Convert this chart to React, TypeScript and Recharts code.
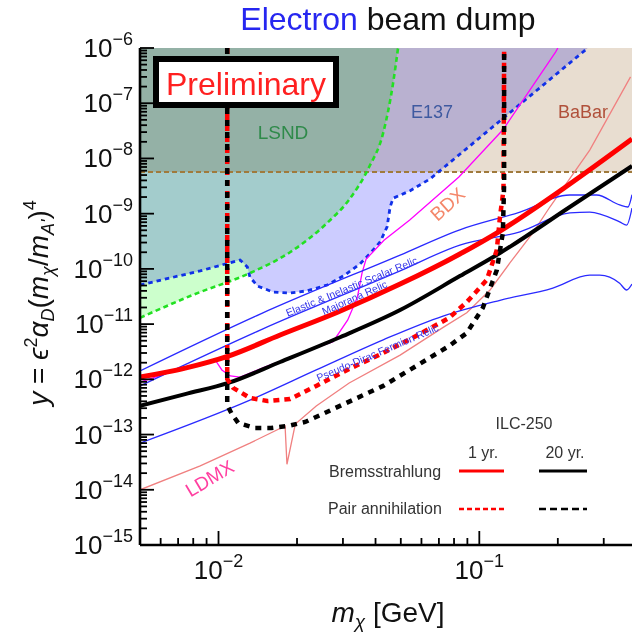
import React from 'react';
import { ComposedChart, Line, Area, XAxis, YAxis } from 'recharts';

const FONT = '"Liberation Sans", Arial, Helvetica, sans-serif';
const Y_TOP = 1e-6;

const X_TICKS = [0.005, 0.006, 0.007, 0.008, 0.009, 0.01, 0.02, 0.03, 0.04, 0.05, 0.06, 0.07, 0.08, 0.09, 0.1, 0.2, 0.3];
const Y_DECADES = [1e-15, 1e-14, 1e-13, 1e-12, 1e-11, 1e-10, 1e-9, 1e-8, 1e-7, 1e-6];
const Y_MINOR = [2, 3, 4, 5, 6, 7, 8, 9];
const Y_TICKS = Y_DECADES.flatMap((d) => (d === Y_TOP ? [d] : [d, ...Y_MINOR.map((m) => m * d)]));

// excluded regions: lower edge, filled up to the top of the frame  [mχ (GeV), y]
const LSND_EDGE = [[0.005, 1.3e-11], [0.008, 3.4e-11], [0.0132, 8.4e-11], [0.0188, 2.0e-10], [0.0261, 6.8e-10], [0.0317, 1.8e-9], [0.0378, 7e-9], [0.0428, 2.9e-8], [0.0467, 2.3e-7], [0.0488, 1e-6]];
const E137_EDGE = [[0.005, 5.1e-11], [0.0085, 9.2e-11], [0.0121, 1.45e-10], [0.0129, 1.08e-10], [0.0132, 7.1e-11], [0.0141, 4.9e-11], [0.0162, 3.8e-11], [0.0188, 3.65e-11], [0.0218, 4.0e-11], [0.0261, 5.1e-11], [0.0306, 7.8e-11], [0.0349, 1.23e-10], [0.0383, 1.95e-10], [0.0417, 3.1e-10], [0.0443, 5.8e-10], [0.0455, 1.32e-9], [0.0467, 1.9e-9], [0.0543, 2.6e-9], [0.0649, 4.3e-9], [0.2606, 1e-6]];
const BABAR_EDGE = [[0.005, 5.7e-9], [0.385, 5.7e-9]];

// projections
const BDX = [[0.005, 8.9e-13], [0.00714, 1.55e-12], [0.00971, 2.24e-12], [0.0103, 1.48e-12], [0.0111, 1.15e-12], [0.0121, 1.1e-12], [0.0158, 1.82e-12], [0.0197, 2.6e-12], [0.0224, 3.4e-12], [0.0275, 4.8e-12], [0.0313, 1.19e-11], [0.0341, 3.1e-11], [0.0355, 8.4e-11], [0.0368, 1.5e-10], [0.0431, 3.3e-10], [0.0541, 7.7e-10], [0.0835, 4.6e-9], [0.1232, 3.3e-8], [0.1963, 8.5e-7], [0.2, 1e-6]];
const LDMX = [[0.005, 1.0e-14], [0.00851, 2.7e-14], [0.0132, 7.0e-14], [0.018, 1.43e-13], [0.0183, 2.9e-14], [0.0197, 1.55e-13], [0.0237, 3.3e-13], [0.0317, 8.6e-13], [0.0497, 2.75e-12], [0.0732, 8.9e-12], [0.0895, 1.6e-11], [0.1097, 4.1e-11], [0.131, 1.28e-10], [0.1604, 4.5e-10], [0.1864, 1.32e-9], [0.2651, 1.42e-8], [0.38, 3.0e-7]];

// relic targets
const SCALAR_RELIC = [[0.005, 1.42e-12], [0.01445, 1.52e-11], [0.0497, 1.78e-10], [0.0842, 5.1e-10], [0.1432, 1.07e-9], [0.2223, 2.18e-9], [0.2818, 2.18e-9], [0.3452, 1.44e-9], [0.3713, 1.32e-9], [0.385, 2.2e-9]];
const MAJORANA_RELIC = [[0.005, 7.6e-13], [0.01445, 7.8e-12], [0.0497, 9.2e-11], [0.0842, 2.7e-10], [0.1432, 4.7e-10], [0.2223, 1.03e-9], [0.2651, 1.07e-9], [0.3452, 7.1e-10], [0.3672, 6.2e-10], [0.385, 1.26e-9]];
const PSEUDO_DIRAC_RELIC = [[0.005, 7.0e-14], [0.0132, 4.2e-13], [0.0237, 1.48e-12], [0.0428, 5.2e-12], [0.0726, 1.4e-11], [0.12, 2.7e-11], [0.1914, 4.5e-11], [0.2651, 7.7e-11], [0.2895, 7.7e-11], [0.3452, 5.5e-11], [0.3672, 4.15e-11], [0.385, 5.3e-11]];

// ILC-250
const BREMS_1YR = [[0.005, 1.1e-12], [0.00745, 1.6e-12], [0.0109, 2.64e-12], [0.01723, 6.35e-12], [0.02875, 1.66e-11], [0.0497, 5.3e-11], [0.0842, 1.86e-10], [0.12, 4.85e-10], [0.2223, 3.44e-9], [0.385, 2.25e-8]];
const BREMS_20YR = [[0.005, 3.3e-13], [0.00745, 5.4e-13], [0.0109, 8.6e-13], [0.01723, 2.06e-12], [0.02875, 5.6e-12], [0.0497, 1.8e-11], [0.0842, 7.4e-11], [0.12, 1.94e-10], [0.2223, 1.32e-9], [0.385, 7.3e-9]];
const PAIR_1YR = [[0.0108, 1e-6], [0.0108, 1.01e-12], [0.01138, 7.0e-13], [0.0132, 4.6e-13], [0.0154, 4.05e-13], [0.0188, 4.4e-13], [0.0237, 7.6e-13], [0.0317, 1.54e-12], [0.0428, 3.0e-12], [0.0572, 6.1e-12], [0.0765, 1.29e-11], [0.0895, 2.5e-11], [0.1068, 6.3e-11], [0.1167, 2.2e-10], [0.12, 8.7e-10], [0.1238, 2.7e-9], [0.1245, 1e-6]];
const PAIR_20YR = [[0.0108, 1e-6], [0.0108, 3.4e-13], [0.0112, 2.45e-13], [0.0119, 1.62e-13], [0.0138, 1.31e-13], [0.0159, 1.31e-13], [0.0185, 1.43e-13], [0.0215, 1.69e-13], [0.0288, 3.2e-13], [0.0428, 7.6e-13], [0.0572, 1.74e-12], [0.0765, 4.0e-12], [0.0895, 6.9e-12], [0.1031, 1.96e-11], [0.1167, 9.5e-11], [0.1231, 4.5e-10], [0.1245, 3.6e-9], [0.1245, 1e-6]];

const toPts = (a: number[][]) => a.map(([x, y]) => ({ x, y }));
const isMajor = (v: number) => Math.abs(Math.log10(v) - Math.round(Math.log10(v))) < 1e-6;
const expLabel = (v: number) => '\u2212' + Math.abs(Math.round(Math.log10(v)));

const TICK = { stroke: '#000', strokeWidth: 1.8 };

function BottomTick({ x, y, payload }: any) {
  const major = isMajor(payload.value);
  return (
    <g>
      <line x1={x} x2={x} y1={y} y2={y - (major ? 14 : 7)} {...TICK} />
      {major && (
        <text x={x} y={y + 34} textAnchor="middle" fontFamily={FONT} fontSize={26} fill="#111">
          10<tspan dy={-12} fontSize={18}>{expLabel(payload.value)}</tspan>
        </text>
      )}
    </g>
  );
}

function TopTick({ x, y, payload }: any) {
  const major = isMajor(payload.value);
  return <line x1={x} x2={x} y1={y} y2={y + (major ? 14 : 7)} {...TICK} />;
}

function LeftTick({ x, y, payload }: any) {
  const major = isMajor(payload.value);
  return (
    <g>
      <line x1={x} x2={x + (major ? 14 : 7)} y1={y} y2={y} {...TICK} />
      {major && (
        <text x={x - 7} y={y + 9} textAnchor="end" fontFamily={FONT} fontSize={26} fill="#111">
          10<tspan dy={-12} fontSize={18}>{expLabel(payload.value)}</tspan>
        </text>
      )}
    </g>
  );
}

function RightTick({ x, y, payload }: any) {
  const major = isMajor(payload.value);
  return <line x1={x} x2={x - (major ? 14 : 7)} y1={y} y2={y} {...TICK} />;
}

const line = (data: number[][], stroke: string, width: number, dash?: string, type: any = 'linear') => (
  <Line
    data={toPts(data)}
    dataKey="y"
    xAxisId="b"
    yAxisId="l"
    type={type}
    stroke={stroke}
    strokeWidth={width}
    strokeDasharray={dash}
    dot={false}
    activeDot={false}
    isAnimationActive={false}
  />
);

const region = (data: number[][], fill: string, type: any = 'linear') => (
  <Area
    className="mul"
    data={toPts(data)}
    dataKey={(d: any) => [d.y, Y_TOP]}
    xAxisId="b"
    yAxisId="l"
    type={type}
    fill={fill}
    fillOpacity={1}
    stroke="none"
    dot={false}
    activeDot={false}
    isAnimationActive={false}
  />
);

const relicLabel = { fontSize: 10.5, fill: '#3535e8' };

export default function App() {
  return (
    <div style={{ position: 'absolute', left: 0, top: 0, width: 636, height: 635, background: '#fff' }}>
      <style>{'.mul { mix-blend-mode: multiply; }'}</style>
      <ComposedChart width={636} height={635} margin={{ top: 48, right: 4, bottom: 0, left: 0 }}>
        <XAxis xAxisId="b" type="number" dataKey="x" scale="log" domain={[0.005, 0.385]} allowDataOverflow
          ticks={X_TICKS} interval={0} tick={BottomTick} tickLine={false} tickSize={0} tickMargin={0}
          axisLine={{ stroke: '#000', strokeWidth: 2.6 }} height={90} />
        <XAxis xAxisId="t" orientation="top" type="number" dataKey="x" scale="log" domain={[0.005, 0.385]} allowDataOverflow
          ticks={X_TICKS} interval={0} tick={TopTick} tickLine={false} tickSize={0} tickMargin={0}
          axisLine={{ stroke: '#000', strokeWidth: 2.6 }} height={0} />
        <YAxis yAxisId="l" type="number" scale="log" domain={[1e-15, Y_TOP]} allowDataOverflow
          ticks={Y_TICKS} interval={0} tick={LeftTick} tickLine={false} tickSize={0} tickMargin={0}
          axisLine={{ stroke: '#000', strokeWidth: 2.6 }} width={140} />
        <YAxis yAxisId="r" orientation="right" type="number" scale="log" domain={[1e-15, Y_TOP]} allowDataOverflow
          ticks={Y_TICKS} interval={0} tick={RightTick} tickLine={false} tickSize={0} tickMargin={0}
          axisLine={{ stroke: '#000', strokeWidth: 2.6 }} width={0} />

        {region(BABAR_EDGE, '#e8ddd0')}
        {region(E137_EDGE, '#ccccff')}
        {region(LSND_EDGE, '#ccffcc', 'monotone')}

        {line(BABAR_EDGE, '#a07a3c', 2, '5 3')}
        {line(LSND_EDGE, '#22e022', 2.6, '5 3.5', 'monotone')}
        {line(E137_EDGE, '#1030e8', 2.8, '4.5 4')}

        {line(LDMX, '#f08080', 1.3)}
        {line(BDX, '#ff00ff', 1.3)}
        {line(SCALAR_RELIC, '#2a2aff', 1.3, undefined, 'monotone')}
        {line(MAJORANA_RELIC, '#2a2aff', 1.3, undefined, 'monotone')}
        {line(PSEUDO_DIRAC_RELIC, '#2a2aff', 1.3, undefined, 'monotone')}

        {line(BREMS_20YR, '#000', 4, undefined, 'monotone')}
        {line(BREMS_1YR, '#ff0000', 5, undefined, 'monotone')}
        {line(PAIR_1YR, '#ff0000', 4.5, '6 5')}
        {line(PAIR_20YR, '#000', 4.5, '6 6')}
      </ComposedChart>

      <svg width={636} height={635} style={{ position: 'absolute', left: 0, top: 0, pointerEvents: 'none' }} fontFamily={FONT}>
        <text x={388} y={30} textAnchor="middle" fontSize={32} fill="#111">
          <tspan fill="#2626f0">Electron</tspan> beam dump
        </text>

        <rect x={156} y={59} width={180} height={46} fill="#fff" stroke="#000" strokeWidth={6} />
        <text x={246} y={95} textAnchor="middle" fontSize={32} fill="#ff2020">Preliminary</text>

        <text x={283} y={139} textAnchor="middle" fontSize={19} fill="#2f8a4a">LSND</text>
        <text x={432} y={118} textAnchor="middle" fontSize={18} fill="#3f5aa0">E137</text>
        <text x={583} y={118} textAnchor="middle" fontSize={18} fill="#b0503a">BaBar</text>
        <text transform="translate(452,209) rotate(-42)" textAnchor="middle" fontSize={19} fill="#f4876a">BDX</text>
        <text transform="translate(213,484) rotate(-31)" textAnchor="middle" fontSize={19} fill="#ff3fa0">LDMX</text>

        <text transform="translate(353,290) rotate(-22.3)" textAnchor="middle" {...relicLabel}>Elastic &amp; Inelastic Scalar Relic</text>
        <text transform="translate(356,301) rotate(-24)" textAnchor="middle" {...relicLabel}>Majorana Relic</text>
        <text transform="translate(379,356) rotate(-23)" textAnchor="middle" {...relicLabel}>Pseudo-Dirac Fermion Relic</text>

        <g fontSize={16} fill="#333">
          <text x={524} y={429} textAnchor="middle">ILC-250</text>
          <text x={483} y={458} textAnchor="middle">1 yr.</text>
          <text x={565} y={458} textAnchor="middle">20 yr.</text>
          <text x={329} y={477}>Bremsstrahlung</text>
          <text x={328} y={514}>Pair annihilation</text>
        </g>
        <line x1={459} x2={504} y1={471} y2={471} stroke="#ff0000" strokeWidth={3} />
        <line x1={539} x2={587} y1={471} y2={471} stroke="#000" strokeWidth={3} />
        <line x1={459} x2={504} y1={509} y2={509} stroke="#ff0000" strokeWidth={2.5} strokeDasharray="5 3" />
        <line x1={539} x2={587} y1={509} y2={509} stroke="#000" strokeWidth={2.5} strokeDasharray="7 4" />

        <text x={388} y={622} textAnchor="middle" fontSize={28} fill="#111">
          <tspan fontStyle="italic">m</tspan>
          <tspan dy={6} fontSize={19} fontStyle="italic">χ</tspan>
          <tspan dy={-6}> [GeV]</tspan>
        </text>
        <text transform="translate(48,303) rotate(-90)" textAnchor="middle" fontSize={28} fill="#111">
          <tspan fontStyle="italic">y</tspan>
          <tspan> = </tspan>
          <tspan fontStyle="italic">ϵ</tspan>
          <tspan dy={-11} fontSize={18}>2</tspan>
          <tspan dy={11} fontStyle="italic">α</tspan>
          <tspan dy={6} fontSize={18} fontStyle="italic">D</tspan>
          <tspan dy={-6}>(</tspan>
          <tspan fontStyle="italic">m</tspan>
          <tspan dy={6} fontSize={18} fontStyle="italic">χ</tspan>
          <tspan dy={-6}>/</tspan>
          <tspan fontStyle="italic">m</tspan>
          <tspan dy={6} fontSize={18} fontStyle="italic">A'</tspan>
          <tspan dy={-6}>)</tspan>
          <tspan dy={-12} fontSize={18}>4</tspan>
        </text>
      </svg>
    </div>
  );
}
